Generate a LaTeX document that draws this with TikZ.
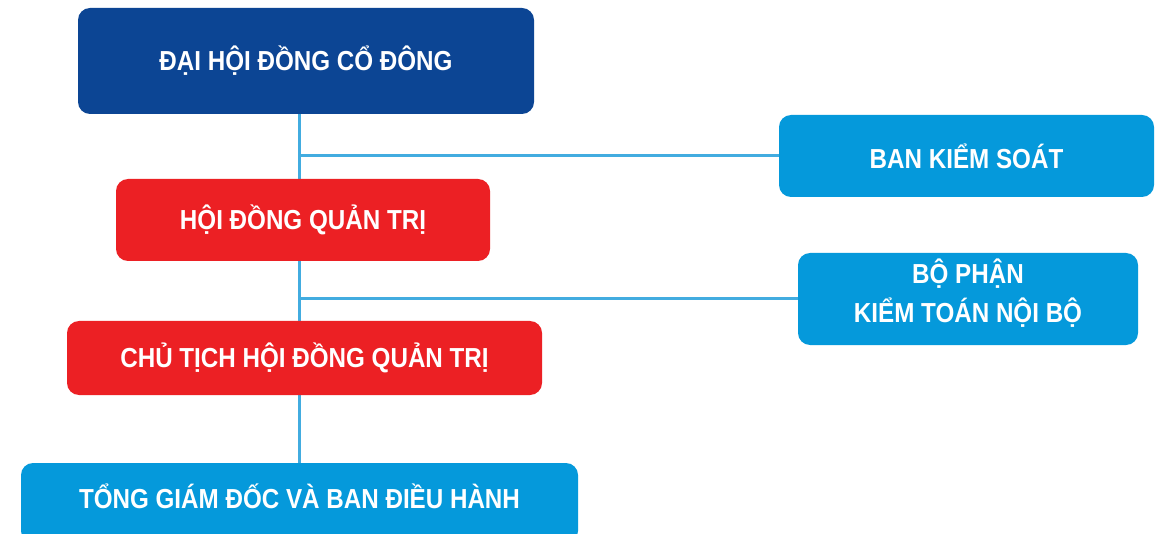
\documentclass[tikz,border=0pt]{standalone}
\usepackage{fontspec}
\setmainfont{Liberation Sans}[FakeStretch=0.88]
\usetikzlibrary{backgrounds}
\definecolor{dblue}{HTML}{0C4594}
\definecolor{lblue}{HTML}{0599DB}
\definecolor{dred}{HTML}{EC2024}
\definecolor{linec}{HTML}{42ACE0}
\tikzset{
  boxfont/.style={text=white, font=\fontsize{27.5}{39}\selectfont\bfseries},
  box/.style={boxfont, rounded corners=12pt, inner sep=0pt, align=center},
  conn/.style={draw=linec, line width=3pt}
}
\begin{document}
\begin{tikzpicture}[x=1pt,y=-1pt]
\useasboundingbox (0,0) rectangle (1161,534);
\clip (0,0) rectangle (1161,534);
\node[box, fill=dblue, minimum width=456pt, minimum height=106pt] (dhd) at (306,61) {ĐẠI HỘI ĐỒNG CỔ ĐÔNG};
\node[box, fill=lblue, minimum width=375pt, minimum height=82pt] (bks) at (966.5,156) {BAN KIỂM SOÁT};
\node[box, fill=dred, minimum width=374pt, minimum height=82pt] (hdqt) at (303,220) {HỘI ĐỒNG QUẢN TRỊ};
\node[box, fill=lblue, minimum width=340pt, minimum height=92pt] (bp) at (968,299) {};
\node[boxfont, align=center, inner sep=0pt] (bpt) at (968,293) {BỘ PHẬN\\KIỂM TOÁN NỘI BỘ};
\node[box, fill=dred, minimum width=475pt, minimum height=74pt] (ct) at (304.5,358) {CHỦ TỊCH HỘI ĐỒNG QUẢN TRỊ};
\node[box, fill=lblue, minimum width=557pt, minimum height=80pt] (tgd) at (299.5,503) {};
\node[boxfont] (tgdt) at (299.5,496) {TỔNG GIÁM ĐỐC VÀ BAN ĐIỀU HÀNH};
\begin{pgfonlayer}{background}
\fill[white] (0,0) rectangle (1161,534);
\draw[conn] (tgd.north |- dhd.south) -- (tgd.north);
\draw[conn] (tgd.north |- bks.west) -- (bks.west);
\draw[conn] (tgd.north |- bp.west) -- (bp.west);
\end{pgfonlayer}
\end{tikzpicture}
\end{document}
